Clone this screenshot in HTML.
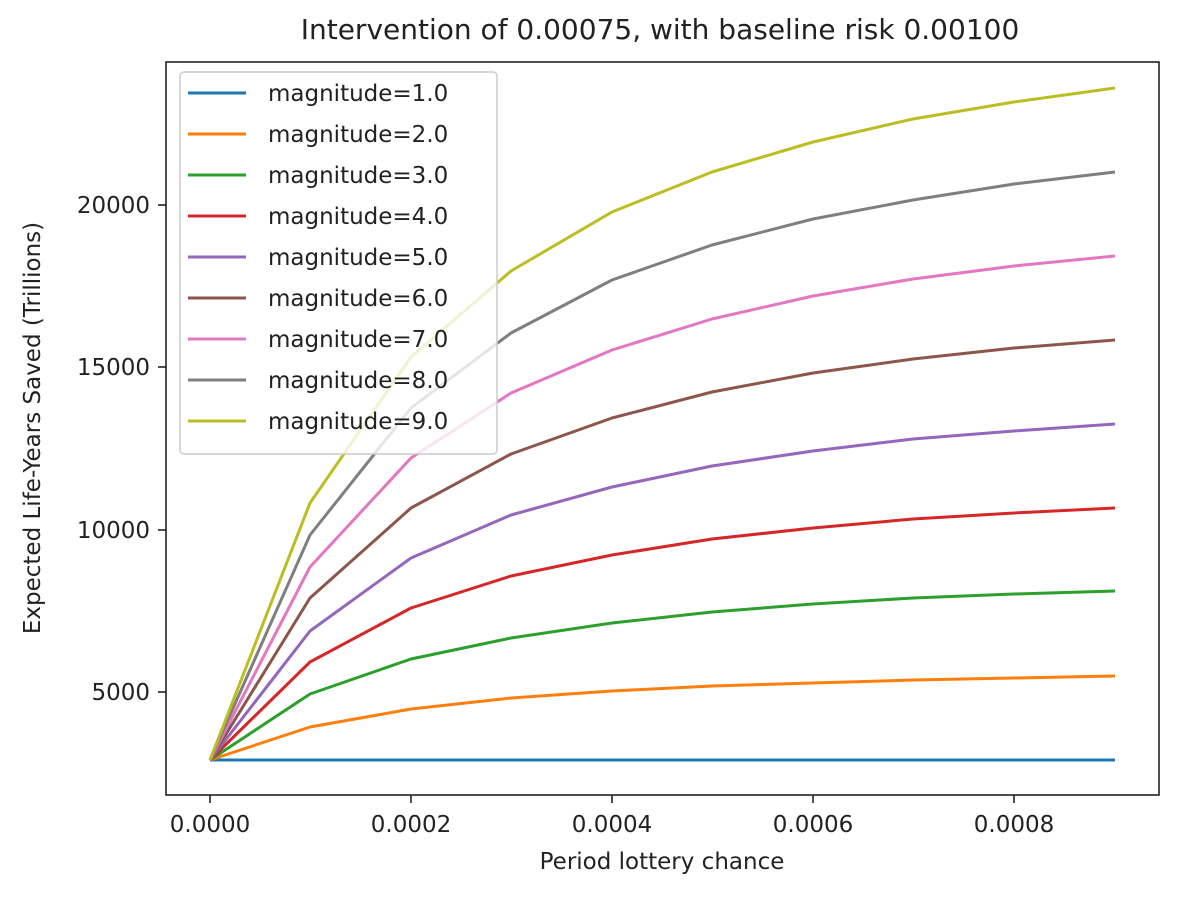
<!DOCTYPE html>
<html><head><style>body{margin:0;background:#fff}</style></head><body>
<svg width="1182" height="892" xmlns="http://www.w3.org/2000/svg" font-family="DejaVu Sans, Liberation Sans, sans-serif">
<rect width="1182" height="892" fill="#fff"/>
<text x="660" y="39" font-size="28" text-anchor="middle" fill="#222">Intervention of 0.00075, with baseline risk 0.00100</text>
<g fill="none" stroke-width="3" stroke-linejoin="round">
<polyline stroke="#1f77b4" points="210,760 1115,760"/>
<polyline stroke="#ff7f0e" points="210,760 310,727 411,709 511,698 612,691 712,686 813,683 913,680 1014,678 1115,676"/>
<polyline stroke="#2ca02c" points="210,760 310,694 411,659 511,638 612,623 712,612 813,604 913,598 1014,594 1115,591"/>
<polyline stroke="#d62728" points="210,760 310,662 411,608 511,576 612,555 712,539 813,528 913,519 1014,513 1115,508"/>
<polyline stroke="#9467bd" points="210,760 310,631 411,558 511,515 612,487 712,466 813,451 913,439 1014,431 1115,424"/>
<polyline stroke="#8c564b" points="210,760 310,598 411,508 511,454 612,418 712,392 813,373 913,359 1014,348 1115,340"/>
<polyline stroke="#e377c2" points="210,760 310,567 411,458 511,393 612,350 712,319 813,296 913,279 1014,266 1115,256"/>
<polyline stroke="#7f7f7f" points="210,760 310,535 411,408 511,333 612,280 712,245 813,219 913,200 1014,184 1115,172"/>
<polyline stroke="#bcbd22" points="210,760 310,503 411,357 511,271 612,212 712,172 813,142 913,119 1014,102 1115,88"/>
</g>
<rect x="166" y="62" width="993" height="733" fill="none" stroke="#222" stroke-width="1.6"/>
<g stroke="#222" stroke-width="1.6">
<line x1="210" y1="795" x2="210" y2="803"/><line x1="411" y1="795" x2="411" y2="803"/><line x1="612" y1="795" x2="612" y2="803"/><line x1="813" y1="795" x2="813" y2="803"/><line x1="1014" y1="795" x2="1014" y2="803"/>
<line x1="158" y1="692" x2="166" y2="692"/><line x1="158" y1="530" x2="166" y2="530"/><line x1="158" y1="367" x2="166" y2="367"/><line x1="158" y1="205" x2="166" y2="205"/>
</g>
<g font-size="23" fill="#222" text-anchor="middle">
<text x="210" y="832">0.0000</text><text x="411" y="832">0.0002</text><text x="612" y="832">0.0004</text><text x="813" y="832">0.0006</text><text x="1014" y="832">0.0008</text>
<text x="662" y="869">Period lottery chance</text>
</g>
<g font-size="23" fill="#222" text-anchor="end">
<text x="150" y="700">5000</text><text x="150" y="538">10000</text><text x="150" y="375">15000</text><text x="150" y="213">20000</text>
</g>
<text transform="translate(40,428) rotate(-90)" font-size="23" fill="#222" text-anchor="middle">Expected Life-Years Saved (Trillions)</text>
<rect x="180" y="72" width="317" height="382" rx="4" fill="#fff" fill-opacity="0.8" stroke="#ccc" stroke-width="1.5"/>
<g stroke-width="3">
<line x1="188" y1="93" x2="246" y2="93" stroke="#1f77b4"/>
<line x1="188" y1="134" x2="246" y2="134" stroke="#ff7f0e"/>
<line x1="188" y1="175" x2="246" y2="175" stroke="#2ca02c"/>
<line x1="188" y1="216" x2="246" y2="216" stroke="#d62728"/>
<line x1="188" y1="257" x2="246" y2="257" stroke="#9467bd"/>
<line x1="188" y1="298" x2="246" y2="298" stroke="#8c564b"/>
<line x1="188" y1="339" x2="246" y2="339" stroke="#e377c2"/>
<line x1="188" y1="380" x2="246" y2="380" stroke="#7f7f7f"/>
<line x1="188" y1="421" x2="246" y2="421" stroke="#bcbd22"/>
</g>
<g font-size="23" fill="#222">
<text x="268" y="101">magnitude=1.0</text><text x="268" y="142">magnitude=2.0</text><text x="268" y="183">magnitude=3.0</text><text x="268" y="224">magnitude=4.0</text><text x="268" y="265">magnitude=5.0</text><text x="268" y="306">magnitude=6.0</text><text x="268" y="347">magnitude=7.0</text><text x="268" y="388">magnitude=8.0</text><text x="268" y="429">magnitude=9.0</text>
</g>
</svg>
</body></html>
